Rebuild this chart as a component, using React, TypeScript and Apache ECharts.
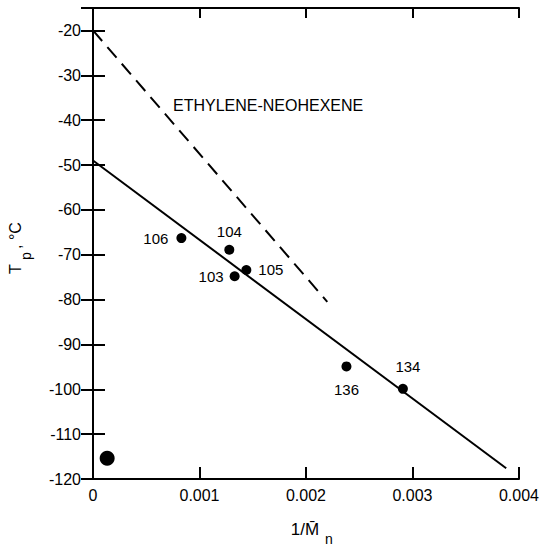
import React, { useEffect, useRef } from "react";
import * as echarts from "echarts";

// ---- data ----
const sampleIds = ["106", "104", "103", "105", "136", "134"];
const invMn = [0.00083, 0.00128, 0.00133, 0.00144, 0.00238, 0.00291];
const tpValues = [-66.3, -68.9, -74.8, -73.4, -94.9, -99.9];

const homopolymerX = [0.000133];
const homopolymerY = [-115.4];

const fitLineX = [0, 0.00388];
const fitLineY = [-49, -117.6];

const neohexeneLineX = [0, 0.0022];
const neohexeneLineY = [-20, -80.5];

const xTickValues = [0, 0.001, 0.002, 0.003, 0.004];
const xTickLabels = ["0", "0.001", "0.002", "0.003", "0.004"];
const yTickLabels = ["-120", "-110", "-100", "-90", "-80", "-70", "-60", "-50", "-40", "-30", "-20"];

const annotationText = "ETHYLENE-NEOHEXENE";

// label placement (style only)
const labelStyle: Record<string, any> = {
  "106": { position: "left", distance: 8 },
  "104": { position: "top", distance: 6 },
  "103": { position: "left", distance: 6 },
  "105": { position: "right", distance: 7 },
  "136": { position: "bottom", distance: 11 },
  "134": { position: "top", distance: 10, offset: [5, 0] },
};

const FONT = "'Liberation Sans', Arial, sans-serif";

export default function App() {
  const ref = useRef<HTMLDivElement>(null);

  useEffect(() => {
    if (!ref.current) return;
    const chart = echarts.init(ref.current, undefined, { renderer: "svg" });

    const pointData = sampleIds.map((id, i) => ({
      value: [invMn[i], tpValues[i]],
      name: id,
      label: {
        show: true,
        formatter: id,
        ...labelStyle[id],
      },
    }));

    const xFmt = (v: number) => {
      const idx = xTickValues.findIndex((t) => Math.abs(t - v) < 1e-9);
      return idx >= 0 ? xTickLabels[idx] : "";
    };
    const yFmt = (v: number) => {
      const s = String(Math.round(v));
      return yTickLabels.indexOf(s) >= 0 ? s : "";
    };

    const axisLine = { show: true, lineStyle: { color: "#000", width: 2 } };

    chart.setOption({
      animation: false,
      backgroundColor: "#fff",
      textStyle: { fontFamily: FONT, color: "#000" },
      grid: { left: 93, right: 17, top: 8, bottom: 70, containLabel: false },
      xAxis: [
        {
          type: "value",
          min: 0,
          max: 0.004,
          interval: 0.001,
          position: "bottom",
          axisLine,
          axisTick: { show: true, inside: true, length: 12, lineStyle: { color: "#000", width: 2 } },
          axisLabel: { show: true, formatter: xFmt, fontSize: 16, color: "#000", margin: 8, fontFamily: FONT },
          splitLine: { show: false },
        },
        {
          type: "value",
          min: 0,
          max: 0.004,
          interval: 0.001,
          position: "top",
          axisLine,
          axisTick: { show: true, inside: true, length: 10, lineStyle: { color: "#000", width: 2 } },
          axisLabel: { show: false },
          splitLine: { show: false },
        },
      ],
      yAxis: [
        {
          type: "value",
          min: -120,
          max: -15,
          interval: 10,
          position: "left",
          axisLine,
          axisTick: { show: true, inside: true, length: 12, lineStyle: { color: "#000", width: 2 } },
          axisLabel: {
            show: true,
            formatter: yFmt,
            fontSize: 16,
            color: "#000",
            margin: 12,
            showMaxLabel: false,
            fontFamily: FONT,
          },
          splitLine: { show: false },
        },
        {
          type: "value",
          min: -120,
          max: -15,
          interval: 10,
          position: "right",
          axisLine,
          axisTick: { show: true, inside: true, length: 12, lineStyle: { color: "#000", width: 2 } },
          axisLabel: { show: false },
          splitLine: { show: false },
        },
      ],
      series: [
        {
          type: "line",
          data: fitLineX.map((x, i) => [x, fitLineY[i]]),
          showSymbol: false,
          symbol: "none",
          lineStyle: { color: "#000", width: 2 },
          z: 2,
        },
        {
          type: "line",
          data: neohexeneLineX.map((x, i) => [x, neohexeneLineY[i]]),
          showSymbol: false,
          symbol: "none",
          lineStyle: { color: "#000", width: 2, type: [14, 8] },
          z: 2,
        },
        {
          type: "scatter",
          data: pointData,
          symbol: "circle",
          symbolSize: 10,
          itemStyle: { color: "#000", opacity: 1 },
          label: { fontSize: 15, color: "#000", fontFamily: FONT, opacity: 1 },
          z: 3,
        },
        {
          type: "scatter",
          data: homopolymerX.map((x, i) => [x, homopolymerY[i]]),
          symbol: "circle",
          symbolSize: 15,
          itemStyle: { color: "#000", opacity: 1 },
          z: 3,
        },
      ],
      graphic: [
        {
          type: "text",
          x: 173,
          y: 105,
          style: {
            text: annotationText,
            fontSize: 16,
            fontFamily: FONT,
            fill: "#000",
            textVerticalAlign: "middle",
            textAlign: "left",
          },
        },
        // x axis title 1/M̄n
        {
          type: "text",
          x: 305,
          y: 529,
          style: {
            text: "1/M\u0304",
            fontSize: 17,
            fontFamily: FONT,
            fill: "#000",
            textAlign: "center",
            textVerticalAlign: "middle",
          },
        },
        {
          type: "text",
          x: 329,
          y: 539,
          style: {
            text: "n",
            fontSize: 14,
            fontFamily: FONT,
            fill: "#000",
            textAlign: "center",
            textVerticalAlign: "middle",
          },
        },
        // y axis title T_p, °C (rotated)
        {
          type: "text",
          x: 23,
          y: 274,
          rotation: Math.PI / 2,
          style: {
            text: "T",
            fontSize: 16,
            fontFamily: FONT,
            fill: "#000",
            textAlign: "left",
            textVerticalAlign: "bottom",
          },
        },
        {
          type: "text",
          x: 33,
          y: 260,
          rotation: Math.PI / 2,
          style: {
            text: "p",
            fontSize: 14,
            fontFamily: FONT,
            fill: "#000",
            textAlign: "left",
            textVerticalAlign: "bottom",
          },
        },
        {
          type: "text",
          x: 23,
          y: 249,
          rotation: Math.PI / 2,
          style: {
            text: ", \u00B0C",
            fontSize: 16,
            fontFamily: FONT,
            fill: "#000",
            textAlign: "left",
            textVerticalAlign: "bottom",
          },
        },
      ],
    });

    return () => chart.dispose();
  }, []);

  return (
    <div
      ref={ref}
      style={{ position: "fixed", left: 0, top: 0, width: 542, height: 549, background: "#fff" }}
    />
  );
}
